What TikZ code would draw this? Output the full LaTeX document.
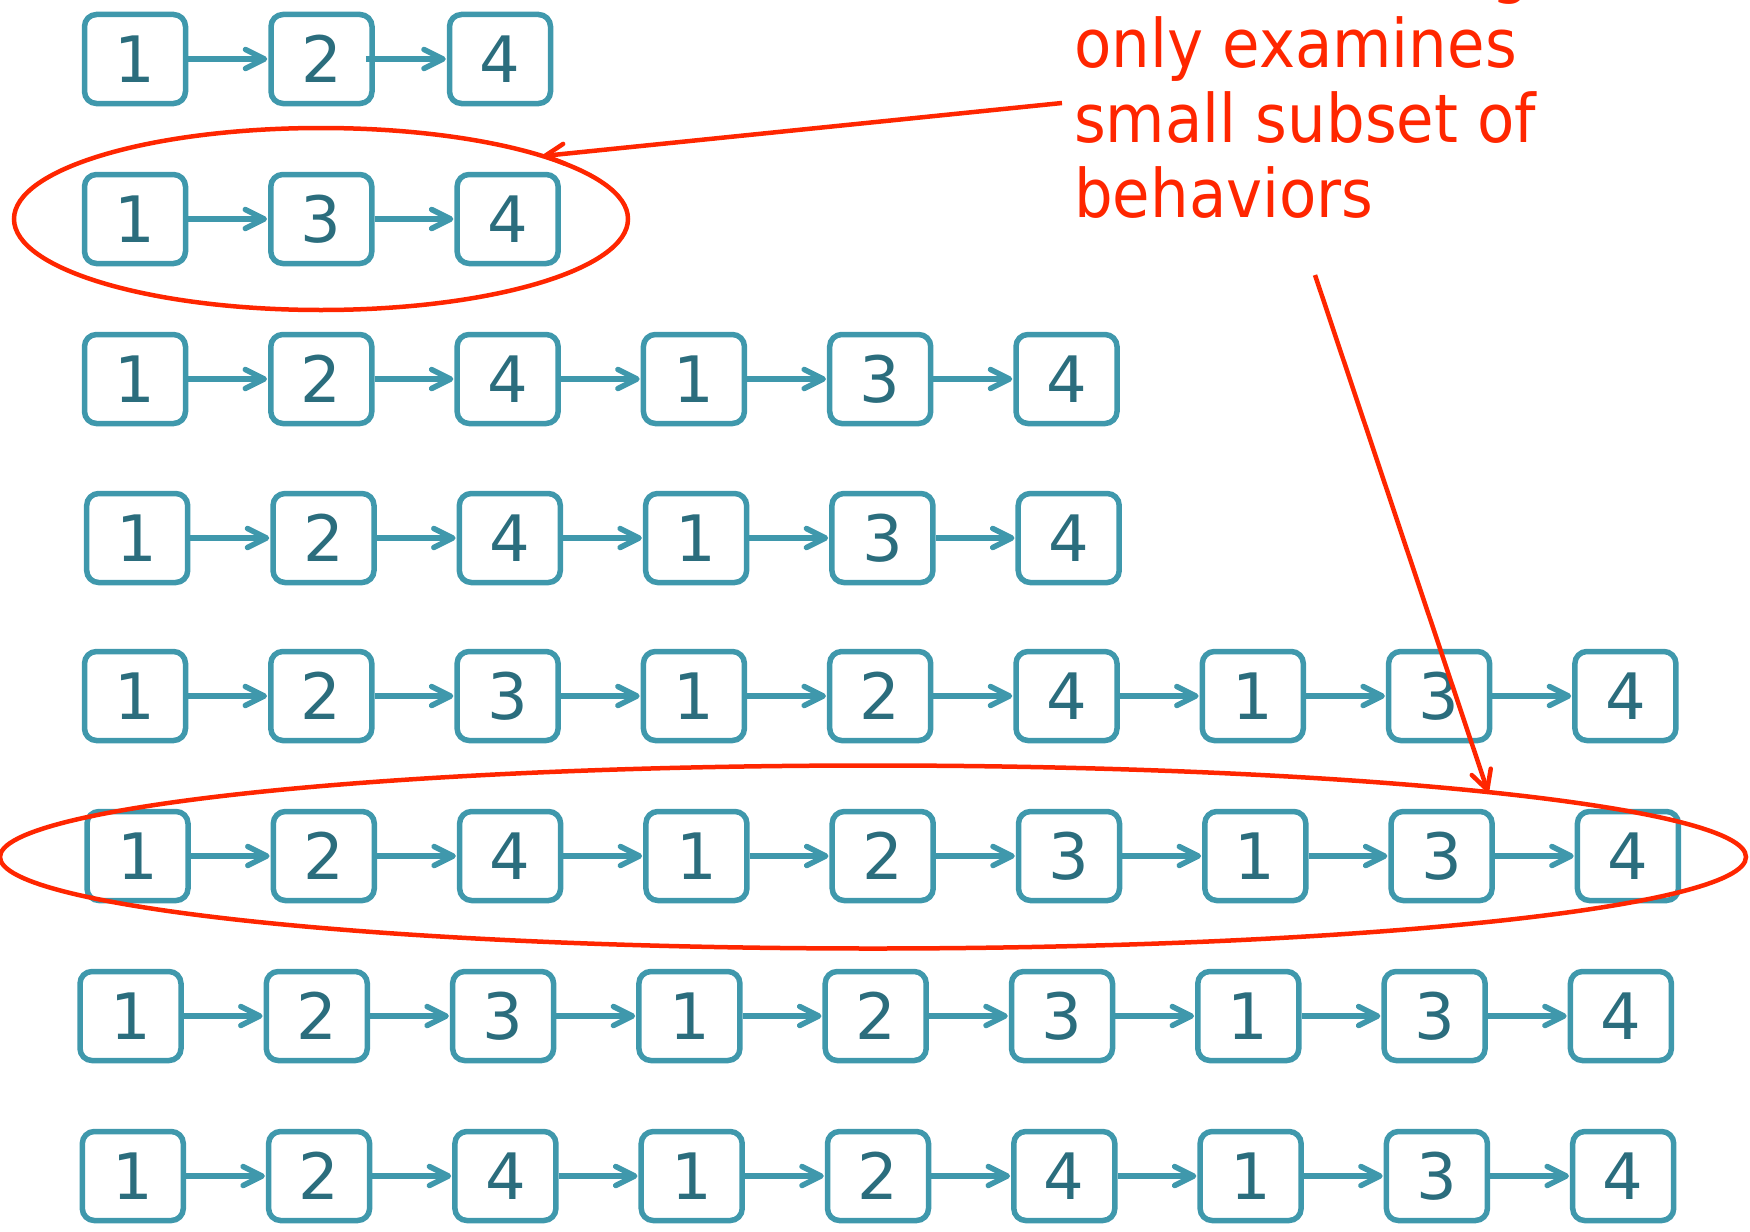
\documentclass[tikz,border=0pt]{standalone}
\usepackage{fontspec}
\setmainfont{DejaVu Sans}
\newfontfamily\notefont[FakeStretch=0.91]{DejaVu Sans}
\usetikzlibrary{arrows.meta,shapes.geometric}
\definecolor{boxline}{HTML}{3F98AC}
\definecolor{digit}{HTML}{2B6D7D}
\definecolor{mark}{HTML}{FF2600}
\tikzset{
  state/.style={draw=boxline, line width=5.5pt, rounded corners=12pt,
    minimum width=101pt, minimum height=89pt, inner sep=0pt,
    text=digit, font=\fontsize{64}{64}\selectfont},
  flow/.style={draw=boxline, line width=5.5pt, shorten >=1pt,
    -{Straight Barb[length=19pt,width=19pt,round]}},
  ring/.style={draw=mark, line width=4.5pt, ellipse, inner sep=0pt},
  callout/.style={draw=mark, line width=4.5pt,
    -{Straight Barb[length=19pt,width=20pt,round]}},
  note/.style={text=mark, inner sep=0pt, anchor=base west,
    font=\notefont\fontsize{67}{75}\selectfont},
}
\begin{document}
\begin{tikzpicture}[x=1pt,y=-1pt]
\useasboundingbox (0,0) rectangle (1750,1231);
\clip (0,0) rectangle (1750,1231);

% first sequence: 1 -> 2 -> 4
\node[state] (r1-1) at (135,59) {1};
\node[state] (r1-2) at (321.5,59) {2};
\node[state] (r1-3) at (500,59) {4};
\draw[flow] (r1-1) -- (r1-2);
\draw[flow] ([xshift=-9pt]r1-2.east) -- (r1-3);

% remaining sequences: row / centre y / first centre x / steps
\foreach \r/\y/\xo/\seq in {
    2/219/135/{1,3,4},
    3/379/135/{1,2,4,1,3,4},
    4/538/137.2/{1,2,4,1,3,4},
    5/696/135/{1,2,3,1,2,4,1,3,4},
    6/856/137.5/{1,2,4,1,2,3,1,3,4},
    7/1016/130.5/{1,2,3,1,2,3,1,3,4},
    8/1176/132.8/{1,2,4,1,2,4,1,3,4}} {
  \foreach \d [count=\k] in \seq {
    \node[state] (r\r-\k) at ({\xo+186.3*(\k-1)},\y) {\d};
    \ifnum\k>1
      \pgfmathtruncatemacro\prev{\k-1}
      \draw[flow] (r\r-\prev) -- (r\r-\k);
    \fi
  }
}

% highlighted sequences
\node[ring, minimum width=614pt, minimum height=182pt] (hl1) at (321,219) {};
\node[ring, minimum width=1746pt, minimum height=183pt] (hl2) at (873,857) {};

% annotation
\node[note, anchor=base east] (note0) at (1530,-9) {testing};
\node[note] (note1) at (1074,67) {only examines};
\node[note] (note2) at (1074,142) {small subset of};
\node[note] (note3) at (1074,217) {behaviors};

% pointers end on the upper rim of each ellipse
\coordinate (tail1) at (1062,103);
\coordinate (tail2) at (1315,275);
\draw[callout] (tail1) -- ([xshift=222pt,yshift=63pt]hl1.center);
\draw[callout] (tail2) -- ([xshift=615pt,yshift=65pt]hl2.center);
\end{tikzpicture}
\end{document}
